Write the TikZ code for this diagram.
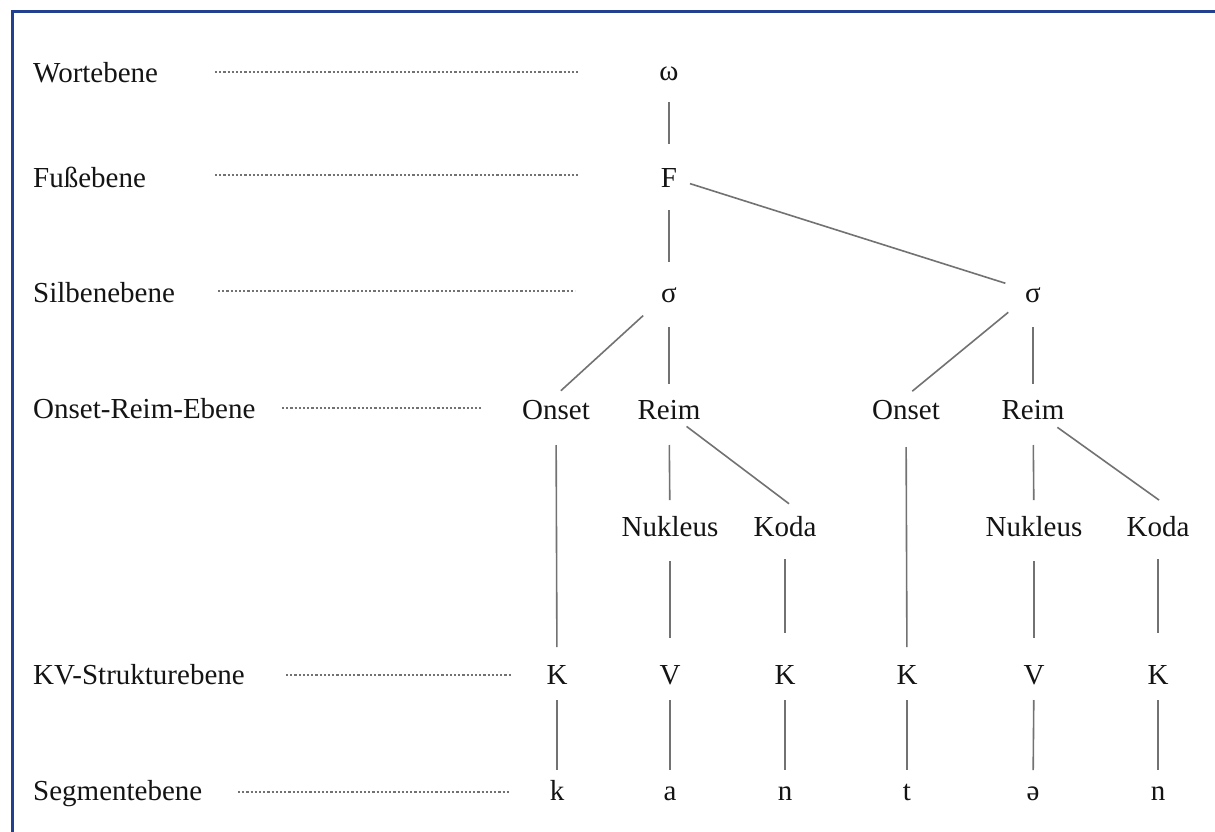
\documentclass[tikz,border=0pt]{standalone}
\usepackage{fontspec}
\setmainfont{Liberation Serif}
\usetikzlibrary{calc}
\definecolor{frameblue}{HTML}{233F8F}
\definecolor{edgegray}{HTML}{727272}
\definecolor{txt}{HTML}{141414}
\tikzset{
  lbl/.style={inner sep=0pt, anchor=base west, text height=20pt, text depth=0pt, font=\fontsize{29}{34}\selectfont, text=txt},
  tn/.style={inner sep=0pt, anchor=base, text height=20pt, text depth=0pt, font=\fontsize{29}{34}\selectfont, text=txt},
  edge/.style={draw=edgegray, line width=1.6pt},
  guide/.style={draw=edgegray, line width=1.2pt, dash pattern=on 2.2pt off 2pt}
}
\begin{document}
\begin{tikzpicture}[x=1pt,y=-1pt]
\useasboundingbox (0,0) rectangle (1215,832);
\fill[white] (0,0) rectangle (1215,832);
\draw[frameblue, line width=3pt] (12,833) -- (12,12) -- (1216,12);

% level labels
\node[lbl] (l1) at (33,83) {Wortebene};
\node[lbl] (l2) at (33,187) {Fußebene};
\node[lbl] (l3) at (33,302) {Silbenebene};
\node[lbl] (l4) at (33,418) {Onset-Reim-Ebene};
\node[lbl] (l5) at (33,684) {KV-Strukturebene};
\node[lbl] (l6) at (33,800) {Segmentebene};

% guide lines
\coordinate (g1a) at (215,72); \coordinate (g1b) at (578,72);
\coordinate (g2a) at (215,175); \coordinate (g2b) at (578,175);
\coordinate (g3a) at (218,291); \coordinate (g3b) at (575,291);
\coordinate (g4a) at (282,408); \coordinate (g4b) at (481,408);
\coordinate (g5a) at (286,675); \coordinate (g5b) at (512,675);
\coordinate (g6a) at (238,792); \coordinate (g6b) at (510,792);
\draw[guide] (g1a) -- (g1b);
\draw[guide] (g2a) -- (g2b);
\draw[guide] (g3a) -- (g3b);
\draw[guide] (g4a) -- (g4b);
\draw[guide] (g5a) -- (g5b);
\draw[guide] (g6a) -- (g6b);

% tree nodes
\node[tn] (om) at (669,81) {ω};
\node[tn] (F) at (669,187) {F};
\node[tn] (s1) at (669,302) {σ};
\node[tn] (s2) at (1033,302) {σ};
\node[tn] (on1) at (556,419) {Onset};
\node[tn] (r1) at (669,419) {Reim};
\node[tn] (on2) at (906,419) {Onset};
\node[tn] (r2) at (1033,419) {Reim};
\node[tn] (nu1) at (670,536) {Nukleus};
\node[tn] (ko1) at (785,536) {Koda};
\node[tn] (nu2) at (1034,536) {Nukleus};
\node[tn] (ko2) at (1158,536) {Koda};
\node[tn] (k1) at (557,684) {K};
\node[tn] (v1) at (670,684) {V};
\node[tn] (k2) at (785,684) {K};
\node[tn] (k3) at (907,684) {K};
\node[tn] (v2) at (1034,684) {V};
\node[tn] (k4) at (1158,684) {K};
\node[tn] (x1) at (557,800) {k};
\node[tn] (x2) at (670,800) {a};
\node[tn] (x3) at (785,800) {n};
\node[tn] (x4) at (907,800) {t};
\node[tn] (x5) at (1033,800) {ə};
\node[tn] (x6) at (1158,800) {n};

% connectors
\draw[edge, shorten <=31pt, shorten >=33pt] (om.center) -- (F.center);
\draw[edge, shorten <=33pt, shorten >=30pt] (F.center) -- (s1.center);
\draw[edge, shorten <=22pt, shorten >=29pt] (F.center) -- (s2.center);
\draw[edge, shorten <=35pt, shorten >=12pt] (s1.center) -- ($(on1.north)+(-4,0)$);
\draw[edge, shorten <=32pt, shorten >=12pt] (s2.center) -- ($(on2.north)+(-3,0)$);
\draw[edge, shorten <=35pt, shorten >=25pt] (s1.center) -- (r1.center);
\draw[edge, shorten <=35pt, shorten >=25pt] (s2.center) -- (r2.center);
\draw[edge, shorten <=36pt, shorten >=27pt] (on1.center) -- (k1.center);
\draw[edge, shorten <=38pt, shorten >=27pt] (on2.center) -- (k3.center);
\draw[edge, shorten <=36pt, shorten >=26pt] (r1.center) -- (nu1.center);
\draw[edge, shorten <=36pt, shorten >=26pt] (r2.center) -- (nu2.center);
\draw[edge, shorten <=12pt, shorten >=20pt] ($(r1.south)+(8,0)$) -- ($(ko1.north)+(20,0)$);
\draw[edge, shorten <=14pt, shorten >=27pt] ($(r2.south)+(13,0)$) -- ($(ko2.north)+(23,0)$);
\draw[edge, shorten <=35pt, shorten >=36pt] (nu1.center) -- (v1.center);
\draw[edge, shorten <=35pt, shorten >=36pt] (nu2.center) -- (v2.center);
\draw[edge, shorten <=33pt, shorten >=41pt] (ko1.center) -- (k2.center);
\draw[edge, shorten <=33pt, shorten >=41pt] (ko2.center) -- (k4.center);
\draw[edge, shorten <=26pt, shorten >=20pt] (k1.center) -- (x1.center);
\draw[edge, shorten <=26pt, shorten >=20pt] (v1.center) -- (x2.center);
\draw[edge, shorten <=26pt, shorten >=20pt] (k2.center) -- (x3.center);
\draw[edge, shorten <=26pt, shorten >=20pt] (k3.center) -- (x4.center);
\draw[edge, shorten <=26pt, shorten >=20pt] (v2.center) -- (x5.center);
\draw[edge, shorten <=26pt, shorten >=20pt] (k4.center) -- (x6.center);
\end{tikzpicture}
\end{document}
